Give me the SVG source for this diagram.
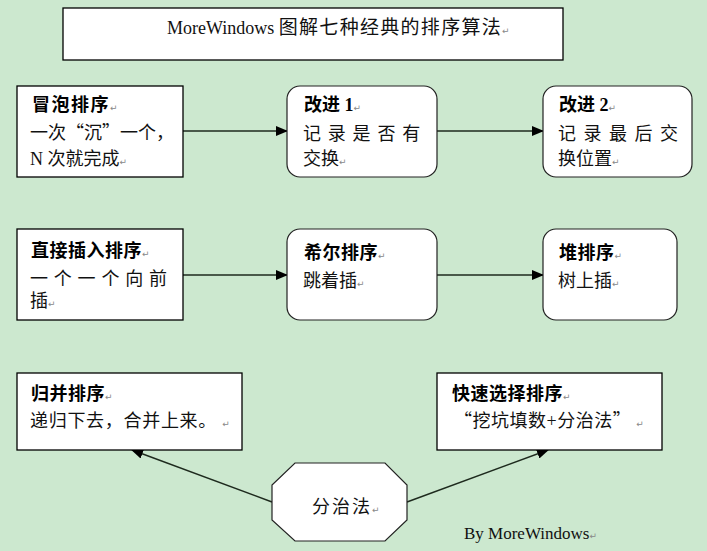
<svg xmlns="http://www.w3.org/2000/svg" width="707" height="551" viewBox="0 0 707 551">
<style>
.box{fill:#fff;stroke:#000;stroke-width:1.3}
.rbox{fill:#fff;stroke:#222;stroke-width:1.2}
.t{font-family:"Liberation Serif","Noto Sans CJK SC",serif;font-size:18px;fill:#111}
.h{font-family:"Liberation Serif","Noto Sans CJK SC",serif;font-size:18px;font-weight:bold;fill:#000}
.pm{font-family:"DejaVu Sans",sans-serif;font-size:9px;font-weight:normal;fill:#888}
.q{font-family:"Noto Sans CJK SC",sans-serif;font-feature-settings:"fwid" 1}
.c{stroke:#1e2a1e;stroke-width:1.5;fill:none}
</style>
<defs>
<marker id="ah" markerWidth="12" markerHeight="10" refX="11" refY="5" orient="auto" markerUnits="userSpaceOnUse">
<path d="M0,0 L12,5 L0,10 Z" fill="#000"/>
</marker>
</defs>
<rect width="707" height="551" fill="#cce8cf"/>

<g id="title">
<rect class="box" x="63" y="8" width="500" height="52"/>
<text class="t" x="167" y="34">MoreWindows <tspan font-size="19" letter-spacing="1.3">图解七种经典的排序算法</tspan><tspan class="pm">↵</tspan></text>
</g>

<g id="connectors">
<line class="c" x1="183" y1="131" x2="287" y2="131" marker-end="url(#ah)"/>
<line class="c" x1="437" y1="131" x2="543" y2="131" marker-end="url(#ah)"/>
<line class="c" x1="183" y1="275" x2="287" y2="275" marker-end="url(#ah)"/>
<line class="c" x1="437" y1="275" x2="543" y2="275" marker-end="url(#ah)"/>
<line class="c" x1="272" y1="502" x2="132" y2="450" marker-end="url(#ah)"/>
<line class="c" x1="407" y1="502" x2="548" y2="450" marker-end="url(#ah)"/>
</g>

<g id="bubble">
<rect class="box" x="17" y="86" width="166" height="91"/>
<text class="h" x="32" y="111" letter-spacing="1.5">冒泡排序<tspan class="pm">↵</tspan></text>
<text class="t" x="30" y="139">一次<tspan class="q">“</tspan>沉<tspan class="q">”</tspan>一个，</text>
<text class="t" x="30" y="165">N 次就完成<tspan class="pm">↵</tspan></text>
</g>

<g id="improve1">
<rect class="rbox" x="287" y="86" width="150" height="91" rx="13"/>
<text class="h" x="304" y="111">改进 1<tspan class="pm">↵</tspan></text>
<text class="t" x="303" y="140" letter-spacing="6.8">记录是否有</text>
<text class="t" x="303" y="165">交换<tspan class="pm">↵</tspan></text>
</g>

<g id="improve2">
<rect class="rbox" x="543" y="86" width="149" height="91" rx="13"/>
<text class="h" x="559" y="111">改进 2<tspan class="pm">↵</tspan></text>
<text class="t" x="558" y="140" letter-spacing="7.5">记录最后交</text>
<text class="t" x="558" y="165">换位置<tspan class="pm">↵</tspan></text>
</g>

<g id="insertion">
<rect class="box" x="17" y="229" width="166" height="91"/>
<text class="h" x="31" y="257" letter-spacing="0.5">直接插入排序<tspan class="pm">↵</tspan></text>
<text class="t" x="30" y="285" letter-spacing="5.8">一个一个向前</text>
<text class="t" x="30" y="307">插<tspan class="pm">↵</tspan></text>
</g>

<g id="shell">
<rect class="rbox" x="287" y="229" width="150" height="91" rx="13"/>
<text class="h" x="304" y="259" letter-spacing="0.5">希尔排序<tspan class="pm">↵</tspan></text>
<text class="t" x="303" y="287">跳着插<tspan class="pm">↵</tspan></text>
</g>

<g id="heap">
<rect class="rbox" x="543" y="229" width="134" height="91" rx="13"/>
<text class="h" x="559" y="259" letter-spacing="0.5">堆排序<tspan class="pm">↵</tspan></text>
<text class="t" x="558" y="287">树上插<tspan class="pm">↵</tspan></text>
</g>

<g id="merge">
<rect class="box" x="17" y="373" width="225" height="77"/>
<text class="h" x="31" y="400" letter-spacing="0.5">归并排序<tspan class="pm">↵</tspan></text>
<text class="t" x="30" y="427" letter-spacing="0.7">递归下去，合并上来。 <tspan class="pm">↵</tspan></text>
</g>

<g id="quick">
<rect class="box" x="437" y="373" width="225" height="77"/>
<text class="h" x="452" y="400" letter-spacing="0.5">快速选择排序<tspan class="pm">↵</tspan></text>
<text class="t" x="454" y="427" letter-spacing="0.5"><tspan class="q">“</tspan>挖坑填数+分治法<tspan class="q">”</tspan> <tspan class="pm">↵</tspan></text>
</g>

<g id="divide">
<polygon class="rbox" points="295,463 385,463 407,485 407,520 385,541 295,541 272,520 272,485"/>
<text class="t" x="312" y="513" font-size="16" letter-spacing="2">分治法<tspan class="pm">↵</tspan></text>
</g>

<g id="author">
<text x="464" y="539" font-family="Liberation Serif,serif" font-size="17" fill="#111">By MoreWindows<tspan class="pm">↵</tspan></text>
</g>
</svg>
